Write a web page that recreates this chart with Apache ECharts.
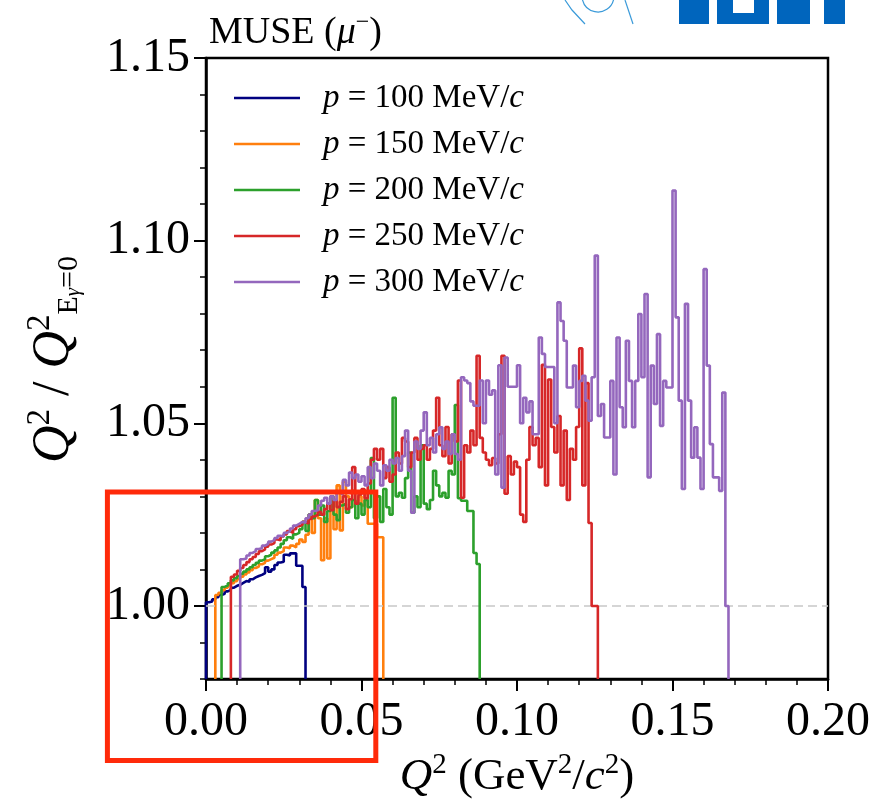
<!DOCTYPE html>
<html><head><meta charset="utf-8">
<script src="https://cdn.jsdelivr.net/npm/echarts@6/dist/echarts.min.js"></script>
<style>html,body{margin:0;padding:0;background:#fff}#chart{width:892px;height:799px}</style>
</head><body><div id="chart"></div>
<script>
// ---- data ----
const binWidth = 0.001;               // Q^2 bin width (GeV^2/c^2)
const momenta = ['100', '150', '200', '250', '300'];   // MeV/c
const binStart = [0.000, 0.003, 0.005, 0.008, 0.011];  // first bin lower edge
const ratio100 = [
  1.0010, 1.0012, 1.0018, 1.0024, 1.0030, 1.0033, 1.0040, 1.0044, 1.0050, 1.0055,
  1.0058, 1.0063, 1.0068, 1.0066, 1.0073, 1.0078, 1.0082, 1.0085, 1.0090, 1.0106,
  1.0094, 1.0100, 1.0112, 1.0119, 1.0121, 1.0140, 1.0138, 1.0144, 1.0144, 1.0110,
  1.0110, 1.0052];
const ratio150 = [
  1.0030, 1.0036, 1.0043, 1.0050, 1.0056, 1.0062, 1.0068,
  1.0074, 1.0080, 1.0086, 1.0092, 1.0098, 1.0104, 1.0108, 1.0114, 1.0118, 1.0124,
  1.0128, 1.0132, 1.0140, 1.0146, 1.0150, 1.0160, 1.0158, 1.0165, 1.0160, 1.0170,
  1.0182, 1.0175, 1.0195, 1.0250, 1.0200, 1.0290, 1.0240, 1.0125, 1.0240, 1.0130,
  1.0300, 1.0210, 1.0330, 1.0207, 1.0340, 1.0300, 1.0270, 1.0315, 1.0285, 1.0300,
  1.0275, 1.0310, 1.0225, 1.0225, 1.0225, 1.0188, 1.0188];
const ratio200 = [
  1.0052, 1.0056, 1.0062, 1.0070, 1.0076,
  1.0082, 1.0088, 1.0094, 1.0100, 1.0106, 1.0112, 1.0118, 1.0124, 1.0128, 1.0136,
  1.0140, 1.0146, 1.0152, 1.0160, 1.0170, 1.0180, 1.0188, 1.0184, 1.0196, 1.0200,
  1.0210, 1.0230, 1.0205, 1.0250, 1.0240, 1.0290, 1.0250, 1.0275, 1.0230, 1.0260,
  1.0300, 1.0250, 1.0235, 1.0275, 1.0280, 1.0255, 1.0270, 1.0290, 1.0240, 1.0280,
  1.0250, 1.0290, 1.0270, 1.0405, 1.0240, 1.0300, 1.0230, 1.0320, 1.0270, 1.0250,
  1.0570, 1.0300, 1.0310, 1.0296, 1.0350, 1.0420, 1.0255, 1.0300, 1.0270, 1.0440,
  1.0280, 1.0265, 1.0290, 1.0370, 1.0330, 1.0300, 1.0310, 1.0296, 1.0370, 1.0360,
  1.0550, 1.0295, 1.0288, 1.0288, 1.0260, 1.0260, 1.0145, 1.0115];
const ratio250 = [
  1.0080, 1.0086,
  1.0096, 1.0104, 1.0112, 1.0120, 1.0128, 1.0134, 1.0142, 1.0150, 1.0155, 1.0162,
  1.0168, 1.0172, 1.0182, 1.0180, 1.0190, 1.0196, 1.0205, 1.0200, 1.0210, 1.0218,
  1.0222, 1.0230, 1.0225, 1.0238, 1.0245, 1.0250, 1.0258, 1.0250, 1.0265, 1.0280,
  1.0262, 1.0290, 1.0270, 1.0285, 1.0300, 1.0265, 1.0292, 1.0380, 1.0280, 1.0305,
  1.0320, 1.0295, 1.0335, 1.0400, 1.0430, 1.0400, 1.0430, 1.0350, 1.0380, 1.0340,
  1.0360, 1.0420, 1.0390, 1.0460, 1.0450, 1.0380, 1.0420, 1.0460, 1.0400, 1.0430,
  1.0440, 1.0400, 1.0430, 1.0480, 1.0570, 1.0440, 1.0410, 1.0490, 1.0390, 1.0470,
  1.0450, 1.0617, 1.0296, 1.0440, 1.0420, 1.0480, 1.0440, 1.0685, 1.0460, 1.0420,
  1.0400, 1.0385, 1.0405, 1.0390, 1.0470, 1.0685, 1.0307, 1.0410, 1.0360, 1.0395,
  1.0380, 1.0250, 1.0230, 1.0400, 1.0490, 1.0440, 1.0460, 1.0380, 1.0660, 1.0330,
  1.0620, 1.0490, 1.0420, 1.0520, 1.0330, 1.0480, 1.0290, 1.0430, 1.0400, 1.0490,
  1.0705, 1.0330, 1.0610, 1.0227, 1.0000, 1.0000];
const ratio300 = [
  1.0128, 1.0130, 1.0138, 1.0145, 1.0150, 1.0156, 1.0158, 1.0165, 1.0170,
  1.0176, 1.0180, 1.0186, 1.0192, 1.0190, 1.0200, 1.0205, 1.0212, 1.0220, 1.0225,
  1.0230, 1.0228, 1.0240, 1.0250, 1.0260, 1.0262, 1.0275, 1.0288, 1.0296, 1.0280,
  1.0300, 1.0290, 1.0310, 1.0305, 1.0345, 1.0330, 1.0365, 1.0350, 1.0360, 1.0340,
  1.0355, 1.0330, 1.0380, 1.0350, 1.0390, 1.0370, 1.0330, 1.0385, 1.0370, 1.0400,
  1.0390, 1.0405, 1.0370, 1.0410, 1.0480, 1.0370, 1.0255, 1.0450, 1.0430, 1.0480,
  1.0530, 1.0440, 1.0460, 1.0420, 1.0470, 1.0489, 1.0430, 1.0450, 1.0416, 1.0470,
  1.0416, 1.0400, 1.0626, 1.0617, 1.0610, 1.0560, 1.0548, 1.0548, 1.0617, 1.0500,
  1.0617, 1.0578, 1.0590, 1.0360, 1.0659, 1.0324, 1.0680, 1.0600, 1.0600, 1.0600,
  1.0659, 1.0500, 1.0570, 1.0530, 1.0560, 1.0470, 1.0470, 1.0735, 1.0690, 1.0654,
  1.0654, 1.0654, 1.0500, 1.0831, 1.0780, 1.0726, 1.0598, 1.0598, 1.0658, 1.0544,
  1.0616, 1.0630, 1.0562, 1.0507, 1.0626, 1.0959, 1.0520, 1.0553, 1.0461, 1.0461,
  1.0616, 1.0360, 1.0735, 1.0544, 1.0489, 1.0726, 1.0616, 1.0489, 1.0616, 1.0799,
  1.0626, 1.0854, 1.0352, 1.0658, 1.0553, 1.0744, 1.0493, 1.0616, 1.0598, 1.0598,
  1.1137, 1.0790, 1.0562, 1.0320, 1.0827, 1.0562, 1.0406, 1.0489, 1.0406, 1.0320,
  1.0922, 1.0658, 1.0443, 1.0352, 1.0352, 1.0315, 1.0584, 1.0000];
const ratios = [ratio100, ratio150, ratio200, ratio250, ratio300];
const xTickValues = [0.00, 0.05, 0.10, 0.15, 0.20];
const yTickValues = [1.00, 1.05, 1.10, 1.15];
const referenceRatio = 1.0;
const highlightQ2 = [-0.0317, 0.0546];      // annotation box, data units
const highlightRatio = [0.9577, 1.0312];

// ---- style ----
const colors = ['#000080', '#ff7f0e', '#2ca02c', '#d62728', '#9467bd'];
const FONT = 'Liberation Serif';
const yMin = 0.98, yMax = 1.15;

function stepData(start, vals) {
  const pts = [[start, yMin]];
  vals.forEach((v, i) => pts.push([+(start + i * binWidth).toFixed(4), v]));
  pts.push([+(start + vals.length * binWidth).toFixed(4), yMin]);
  return pts;
}

const series = ratios.map((vals, i) => ({
  name: momenta[i],
  type: 'line',
  step: 'end',
  symbol: 'none',
  showSymbol: false,
  xAxisIndex: 0, yAxisIndex: 0,
  data: stepData(binStart[i], vals),
  lineStyle: { color: colors[i], width: 2.6 },
  itemStyle: { color: colors[i] },
  clip: true,
  z: 3 + i,
  markLine: i === 0 ? {
    silent: true, symbol: ['none', 'none'], label: { show: false },
    lineStyle: { color: '#c8c8c8', type: [9, 5], width: 1.5 },
    data: [{ yAxis: referenceRatio }], animation: false
  } : undefined
}));

const txt = (size, extra) => Object.assign({ fontFamily: FONT, fontSize: size, color: '#000', fontWeight: 'normal' }, extra || {});

const chart = echarts.init(document.getElementById('chart'), null, { renderer: 'canvas' });
const option = {
  animation: false,
  backgroundColor: '#fff',
  title: {
    text: '{n|MUSE (}{i|μ}{s|−}{n|)}',
    left: 204, top: 6,
    textStyle: {
      fontWeight: 'normal',
      rich: {
        n: txt(38, { lineHeight: 44 }),
        i: txt(38, { fontStyle: 'italic', lineHeight: 44 }),
        s: txt(24, { verticalAlign: 'top', lineHeight: 30 })
      }
    }
  },
  legend: {
    orient: 'vertical', left: 234, top: 80, padding: 0,
    icon: 'rect', itemWidth: 66, itemHeight: 2.5, itemGap: 10,
    data: momenta,
    formatter: n => '{i|p}{n| = ' + n + ' MeV/}{i|c}',
    textStyle: {
      color: '#000', fontFamily: FONT, fontSize: 33, lineHeight: 36,
      padding: [0, 0, 0, 18],
      rich: {
        n: txt(33, { lineHeight: 36 }),
        i: txt(33, { fontStyle: 'italic', lineHeight: 36 })
      }
    }
  },
  grid: {
    left: 206, top: 58, width: 622, height: 621, containLabel: false, outerBoundsMode: 'none',
    show: true, borderColor: '#000', borderWidth: 2.5, backgroundColor: 'transparent'
  },
  xAxis: [{
    type: 'value', min: 0, max: 0.2, interval: 0.05,
    axisLine: { show: true, lineStyle: { color: '#000', width: 2.5 } },
    axisTick: { show: true, length: 12, lineStyle: { color: '#000', width: 2 } },
    minorTick: { show: true, splitNumber: 5, length: 6, lineStyle: { color: '#000', width: 1.5 } },
    axisLabel: { fontFamily: FONT, fontSize: 48, color: '#000', margin: 19, formatter: v => v.toFixed(2), customValues: xTickValues },
    splitLine: { show: false }, minorSplitLine: { show: false },
    name: '{q|Q}{s|2}{n| (GeV}{s|2}{n|/}{q|c}{s|2}{n|)}',
    nameLocation: 'middle', nameGap: 51,
    nameTextStyle: {
      rich: {
        q: txt(45, { fontStyle: 'italic', lineHeight: 52 }),
        n: txt(45, { lineHeight: 52 }),
        s: txt(29, { verticalAlign: 'top', lineHeight: 34 })
      }
    }
  }],
  yAxis: [{
    type: 'value', min: yMin, max: yMax, interval: 0.01, position: 'left',
    axisLine: { show: true, lineStyle: { color: '#000', width: 2.5 } },
    axisTick: { show: true, length: 6, lineStyle: { color: '#000', width: 1.5 } },
    axisLabel: { show: false },
    splitLine: { show: false }
  }, {
    type: 'value', min: yMin, max: yMax, position: 'left', offset: 0,
    axisLine: { show: false },
    axisTick: { show: true, length: 12, customValues: yTickValues, lineStyle: { color: '#000', width: 2 } },
    axisLabel: { show: true, customValues: yTickValues, fontFamily: FONT, fontSize: 48, color: '#000', margin: 16, formatter: v => v.toFixed(2) },
    splitLine: { show: false },
    name: '{sp| }{q|Q}{s|2}{n| / }{q|Q}{s|2}{b|E}{g|γ}{b|=0}',
    nameLocation: 'middle', nameRotate: 90, nameGap: 122,
    nameTextStyle: {
      rich: {
        sp: txt(20, { width: 18, lineHeight: 20 }),
        q: txt(52, { fontStyle: 'italic', lineHeight: 60 }),
        n: txt(52, { lineHeight: 60 }),
        s: txt(33, { verticalAlign: 'top', lineHeight: 36 }),
        b: txt(30, { verticalAlign: 'bottom', lineHeight: 30 }),
        g: txt(21, { fontStyle: 'italic', verticalAlign: 'bottom', lineHeight: 22 })
      }
    }
  }],
  series: series
};
chart.setOption(option);

// annotation box placed in data coordinates
const p0 = chart.convertToPixel({ gridIndex: 0 }, [highlightQ2[0], highlightRatio[1]]);
const p1 = chart.convertToPixel({ gridIndex: 0 }, [highlightQ2[1], highlightRatio[0]]);
chart.setOption({
  graphic: [
    {
      type: 'rect', z: 100,
      shape: { x: p0[0], y: p0[1], width: p1[0] - p0[0], height: p1[1] - p0[1] },
      style: { fill: 'none', stroke: '#ff2a0a', lineWidth: 5 }
    },
    // partial institute logo at the top-right edge
    { type: 'rect', z: 50, shape: { x: 679, y: 0, width: 30, height: 24 }, style: { fill: '#0065bd' } },
    { type: 'rect', z: 50, shape: { x: 717, y: 0, width: 52, height: 24 }, style: { fill: '#0065bd' } },
    { type: 'rect', z: 51, shape: { x: 733, y: 0, width: 21, height: 13 }, style: { fill: '#fff' } },
    { type: 'rect', z: 50, shape: { x: 777, y: 0, width: 68, height: 24 }, style: { fill: '#0065bd' } },
    { type: 'rect', z: 51, shape: { x: 810, y: 0, width: 14, height: 24 }, style: { fill: '#fff' } },
    { type: 'polyline', z: 50, shape: { points: [[565, 0], [572, 10], [585, 24]] }, style: { stroke: '#3a9ad9', lineWidth: 1.2, fill: 'none' } },
    { type: 'arc', z: 50, shape: { cx: 598, cy: -4, r: 16, startAngle: 0.2, endAngle: 2.9 }, style: { stroke: '#3a9ad9', lineWidth: 1.2, fill: 'none' } },
    { type: 'line', z: 50, shape: { x1: 625, y1: 0, x2: 633, y2: 24 }, style: { stroke: '#3a9ad9', lineWidth: 1.2 } }
  ]
});
</script>
</body></html>
